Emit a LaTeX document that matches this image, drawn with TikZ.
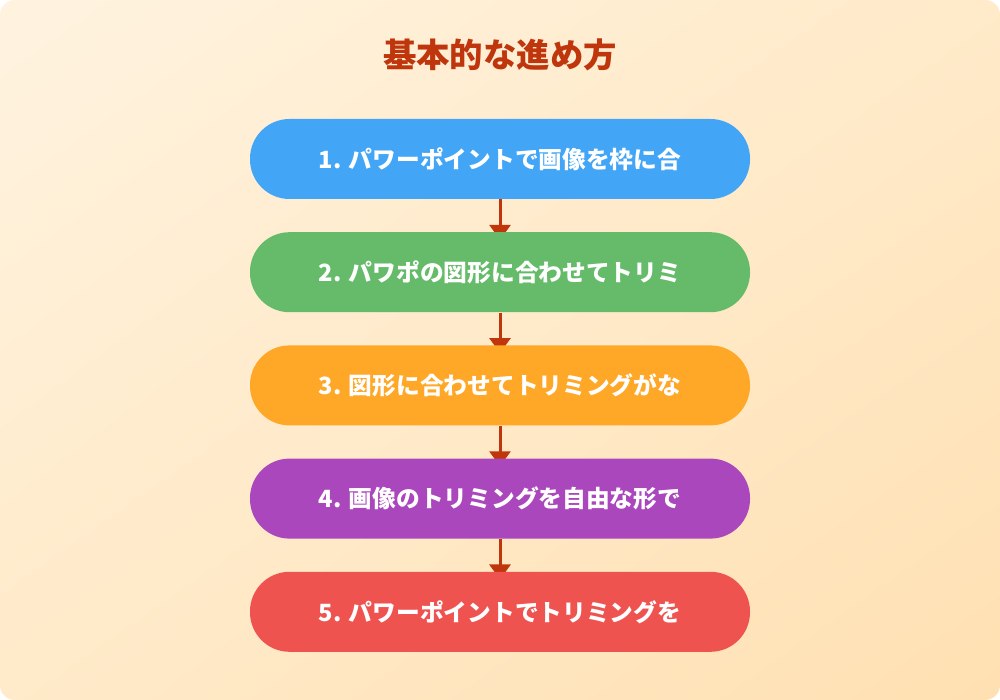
\documentclass[tikz,border=0pt]{standalone}
\usepackage{fontspec}
\setmainfont{Noto Sans CJK JP}
\usetikzlibrary{positioning,arrows.meta,shadings}
\definecolor{bgA}{HTML}{FFF3E0}
\definecolor{bgB}{HTML}{FFE0B2}
\definecolor{bgM}{HTML}{FFEAC9}
\definecolor{titlered}{HTML}{BF360C}
\definecolor{stepblue}{HTML}{42A5F5}
\definecolor{stepgreen}{HTML}{66BB6A}
\definecolor{steporange}{HTML}{FFA726}
\definecolor{steppurple}{HTML}{AB47BC}
\definecolor{stepred}{HTML}{EF5350}
\pgfdeclarelayer{back}
\pgfdeclarelayer{links}
\pgfsetlayers{back,links,main}
\begin{document}
\begin{tikzpicture}[
  stepbox/.style={rounded corners=0.79cm,minimum width=10cm,minimum height=1.6cm,
    text=white,font=\bfseries\fontsize{13.5}{16}\selectfont,inner sep=0pt},
  link/.style={titlered,line width=0.06cm,-{Triangle[width=0.42cm,length=0.3cm]}},
  node distance=0.65cm]
\useasboundingbox (0,0) rectangle (20,14);
\begin{pgfonlayer}{back}
\shade[rounded corners=0.3cm,upper left=bgA,lower right=bgB,upper right=bgM,lower left=bgM]
  (0,0) rectangle (20,14);
\end{pgfonlayer}
\node[titlered,font=\bfseries\fontsize{19}{22}\selectfont] (title) at (10,12.9) {基本的な進め方};
\node[stepbox,fill=stepblue] (s1) at (10,10.82) {1. パワーポイントで画像を枠に合};
\node[stepbox,fill=stepgreen,below=of s1] (s2) {2. パワポの図形に合わせてトリミ};
\node[stepbox,fill=steporange,below=of s2] (s3) {3. 図形に合わせてトリミングがな};
\node[stepbox,fill=steppurple,below=of s3] (s4) {4. 画像のトリミングを自由な形で};
\node[stepbox,fill=stepred,below=of s4] (s5) {5. パワーポイントでトリミングを};
\begin{pgfonlayer}{links}
\foreach \a/\b in {s1/s2,s2/s3,s3/s4,s4/s5}{
  \draw[link] (\a.south) -- ([yshift=-0.16cm]\b.north);
}
\end{pgfonlayer}
\end{tikzpicture}
\end{document}
